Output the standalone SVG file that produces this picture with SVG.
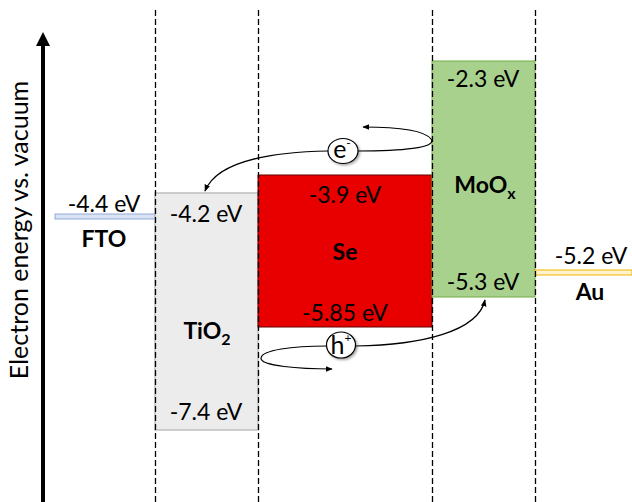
<svg xmlns="http://www.w3.org/2000/svg" width="632" height="502" viewBox="0 0 632 502">
<defs>
<marker id="ah" viewBox="0 0 10 10" refX="9" refY="5" markerWidth="7" markerHeight="7" orient="auto-start-reverse" markerUnits="userSpaceOnUse">
<path d="M0,1 L10,5 L0,9 z" fill="#000"/>
</marker>
<filter id="sh" x="-50%" y="-50%" width="200%" height="200%">
<feDropShadow dx="1.5" dy="1.5" stdDeviation="1" flood-color="#000" flood-opacity="0.35"/>
</filter>
</defs>
<style>
text{font-family:Lato,"Open Sans","Liberation Sans",sans-serif;fill:#000;text-anchor:middle}
.v{font-size:23px}
.b{font-size:23px;font-weight:bold}
.dash{stroke:#000;stroke-width:1.3;stroke-dasharray:6,3;fill:none}
.conn{stroke:#000;stroke-width:1.2;fill:none;marker-end:url(#ah)}
</style>
<rect width="632" height="502" fill="#fff"/>

<g id="axis">
<line x1="43" y1="502" x2="43" y2="44" stroke="#000" stroke-width="4"/>
<path d="M43,32 L50,46 L36,46 z" fill="#000"/>
<text transform="translate(28,230) rotate(-90)" style="font-size:25px">Electron energy vs. vacuum</text>
</g>

<g id="FTO">
<rect x="55" y="214" width="100" height="5" fill="#dae3f3" stroke="#8faadc" stroke-width="1"/>
<text class="v" x="104" y="212">-4.4 eV</text>
<text class="b" x="104" y="247">FTO</text>
</g>

<g id="TiO2">
<rect x="155" y="193" width="103" height="237" fill="#ececec" stroke="#bfbfbf" stroke-width="1.5"/>
<text class="v" x="206" y="222">-4.2 eV</text>
<text class="b" x="207" y="339">TiO<tspan font-size="16" dy="6">2</tspan></text>
<text class="v" x="206" y="420">-7.4 eV</text>
</g>

<g id="Se">
<rect x="258" y="175" width="174" height="152" fill="#e80000" stroke="#600" stroke-width="1"/>
<text class="v" x="345" y="203">-3.9 eV</text>
<text class="b" x="345" y="260">Se</text>
<text class="v" x="345" y="321">-5.85 eV</text>
</g>

<g id="MoOx">
<rect x="432" y="61" width="103" height="236" fill="#a9d18e" stroke="#70ad47" stroke-width="1"/>
<text class="v" x="483" y="87">-2.3 eV</text>
<text class="b" x="485" y="193">MoO<tspan font-size="16" dy="6">x</tspan></text>
<text class="v" x="483" y="290">-5.3 eV</text>
</g>

<g id="Au">
<rect x="535" y="270" width="97" height="5" fill="#fff2cc" stroke="#f0b400" stroke-width="1"/>
<text class="v" x="591" y="264">-5.2 eV</text>
<text class="b" x="590" y="300">Au</text>
</g>

<g id="dashes">
<line class="dash" x1="155.5" y1="10" x2="155.5" y2="502"/>
<line class="dash" x1="258.5" y1="10" x2="258.5" y2="502"/>
<line class="dash" x1="432.5" y1="10" x2="432.5" y2="502"/>
<line class="dash" x1="535.5" y1="10" x2="535.5" y2="502"/>
</g>

<g id="connectors">
<path class="conn" d="M328,151 C280,152 218,158 205,191"/>
<path class="conn" d="M358,151 C400,151 438,148 431,139 C424,130 395,127 363,127"/>
<path class="conn" d="M356,346 C420,345 478,332 485,300"/>
<path class="conn" d="M327,346 C292,346 262,350 261,358 C260,366 300,369 332,369"/>
</g>

<g id="electron">
<ellipse cx="343" cy="151" rx="15" ry="12.5" fill="#fff" stroke="#000" stroke-width="1.2" filter="url(#sh)"/>
<text x="342" y="158" style="font-size:25px">e<tspan font-size="12" dy="-11">-</tspan></text>
</g>

<g id="hole">
<ellipse cx="341" cy="345" rx="14.5" ry="13" fill="#fff" stroke="#000" stroke-width="1.2" filter="url(#sh)"/>
<text x="341" y="354" style="font-size:25px">h<tspan font-size="12" dy="-12">+</tspan></text>
</g>
</svg>
